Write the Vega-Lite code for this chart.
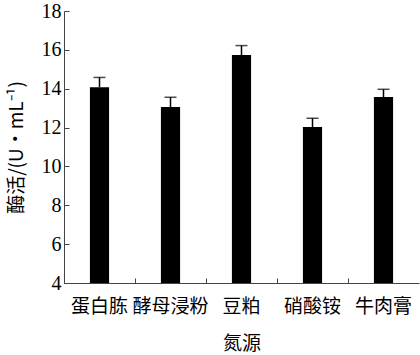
{
  "$schema": "https://vega.github.io/schema/vega-lite/v6.json",
  "autosize": {"type": "none"},
  "padding": {"left": 64, "top": 11, "right": 1, "bottom": 72},
  "width": 355,
  "height": 272,
  "data": {"values": [
    {"source": "蛋白胨", "value": 14.08, "err": 0.5},
    {"source": "酵母浸粉", "value": 13.06, "err": 0.5},
    {"source": "豆粕", "value": 15.73, "err": 0.49},
    {"source": "硝酸铵", "value": 12.03, "err": 0.45},
    {"source": "牛肉膏", "value": 13.57, "err": 0.4}
  ]},
  "transform": [{"calculate": "datum.value + datum.err", "as": "upper"}],
  "config": {
    "view": {"stroke": null},
    "axis": {"grid": false, "domainColor": "#444", "tickColor": "#444", "labelColor": "#000", "titleColor": "#000", "titleFontWeight": "normal", "labelOverlap": false},
    "axisY": {"values": [4, 6, 8, 10, 12, 14, 16, 18], "tickSize": -5, "labelPadding": 8, "labelFont": "Liberation Serif", "labelFontSize": 20, "titleFont": "Noto Sans CJK SC", "titleFontSize": 19, "titlePadding": 15}
  },
  "encoding": {
    "x": {"field": "source", "type": "nominal", "sort": null,
      "scale": {"paddingInner": 0, "paddingOuter": 0},
      "axis": {"title": "氮源", "labelAngle": 0, "bandPosition": 0, "tickSize": -5, "labelPadding": 19,
        "labelFont": "Noto Sans CJK SC", "labelFontSize": 19, "titleFont": "Noto Sans CJK SC", "titleFontSize": 19, "titlePadding": 18}}
  },
  "layer": [
    {"mark": {"type": "bar", "color": "#000", "width": {"band": 0.27}},
      "encoding": {"y": {"field": "value", "type": "quantitative",
        "scale": {"domain": [4, 18], "nice": false, "zero": false},
        "axis": {"title": "酶活/(U•mL⁻¹)"}},
        "y2": {"datum": 4}}},
    {"mark": {"type": "rule", "color": "#000", "strokeWidth": 1.5},
      "encoding": {"y": {"field": "value", "type": "quantitative", "axis": {"title": "酶活/(U•mL⁻¹)"}}, "y2": {"field": "upper"}}},
    {"mark": {"type": "tick", "color": "#000", "thickness": 1.5, "size": 12},
      "encoding": {"y": {"field": "upper", "type": "quantitative", "axis": {"title": "酶活/(U•mL⁻¹)"}}}}
  ]
}
